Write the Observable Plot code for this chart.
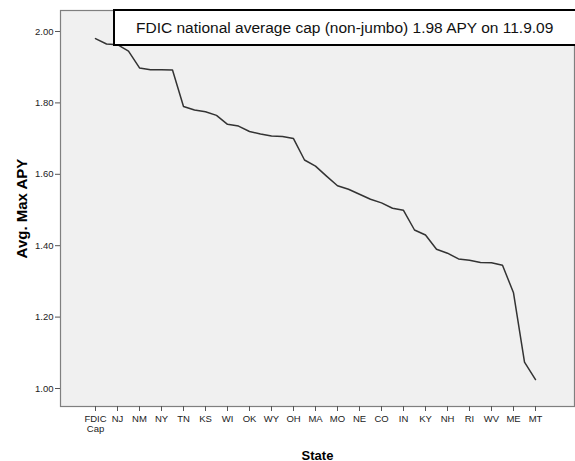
<!DOCTYPE html>
<html><head><meta charset="utf-8">
<script src="https://cdn.jsdelivr.net/npm/d3@7"></script>
<script src="https://cdn.jsdelivr.net/npm/@observablehq/plot@0.6"></script>
<style>
body{margin:0;background:#fff;font-family:"Liberation Sans",Arial,sans-serif}
#wrap{position:relative;width:575px;height:461px;overflow:hidden}
#note{position:absolute;left:113px;top:9px;width:470px;height:33px;border:2px solid #000;background:#fff;box-sizing:content-box;
  font:15.5px "Liberation Sans",Arial,sans-serif;color:#111;line-height:33px;padding-left:21px;white-space:nowrap}
g[aria-label="x-axis label"] text{font-weight:bold;font-size:13px;fill:#000}
g[aria-label="y-axis label"] text{font-weight:bold;font-size:15px;fill:#000}
g[aria-label="x-axis tick label"] text, g[aria-label="y-axis tick label"] text{fill:#222}
</style></head><body>
<div id="wrap"><div id="chart"></div><div id="note">FDIC national average cap (non-jumbo) 1.98 APY on 11.9.09</div></div>
<script>
const categories = ["FDIC Cap","CT","NJ","PA","NM","CA","NY","NC","TN","VA","KS","TX","WI","FL","OK","MD","WY","IL","OH","AZ","MA","GA","MO","MI","NE","WA","CO","MN","IN","OR","KY","SC","NH","UT","RI","IA","WV","AL","ME","VT","MT"];
const values = [1.98,1.965,1.963,1.945,1.898,1.893,1.893,1.892,1.790,1.780,1.775,1.765,1.740,1.735,1.720,1.713,1.707,1.706,1.700,1.640,1.623,1.595,1.568,1.558,1.544,1.530,1.520,1.505,1.499,1.444,1.430,1.390,1.379,1.363,1.359,1.353,1.352,1.345,1.268,1.074,1.025];
const tickLabels = ["FDIC Cap","NJ","NM","NY","TN","KS","WI","OK","WY","OH","MA","MO","NE","CO","IN","KY","NH","RI","WV","ME","MT"];
const yTicks = [1.0,1.2,1.4,1.6,1.8,2.0];

const data = categories.map((c,i)=>({state:c, apy:values[i]}));

const chart = Plot.plot({
  width:575, height:461,
  marginLeft:60, marginRight:1, marginTop:10, marginBottom:55,
  style:{fontFamily:'"Liberation Sans",Arial,sans-serif', fontSize:"9.5px", background:"#fff", color:"#222"},
  x:{type:"point", domain:categories, range:[92,537], padding:0},
  y:{domain:[0.9496,2.0588]},
  marks:[
    Plot.frame({fill:"#f0f0f0", stroke:"#7f7f7f", strokeWidth:1.2}),
    Plot.axisX({ticks:tickLabels, tickSize:5, tickPadding:4, stroke:"#555",
      tickFormat:d=> d==="FDIC Cap" ? "FDIC\nCap" : d,
      label:"State", labelAnchor:"center", labelArrow:"none", labelOffset:53}),
    Plot.axisY({ticks:yTicks, tickSize:5, tickPadding:2, stroke:"#555", tickFormat:d3.format(".2f"),
      label:"Avg. Max APY", labelAnchor:"center", labelArrow:"none", labelOffset:44}),
    Plot.line(data,{x:"state", y:"apy", stroke:"#333", strokeWidth:1.5})
  ]
});
document.getElementById("chart").appendChild(chart);
</script>
</body></html>
